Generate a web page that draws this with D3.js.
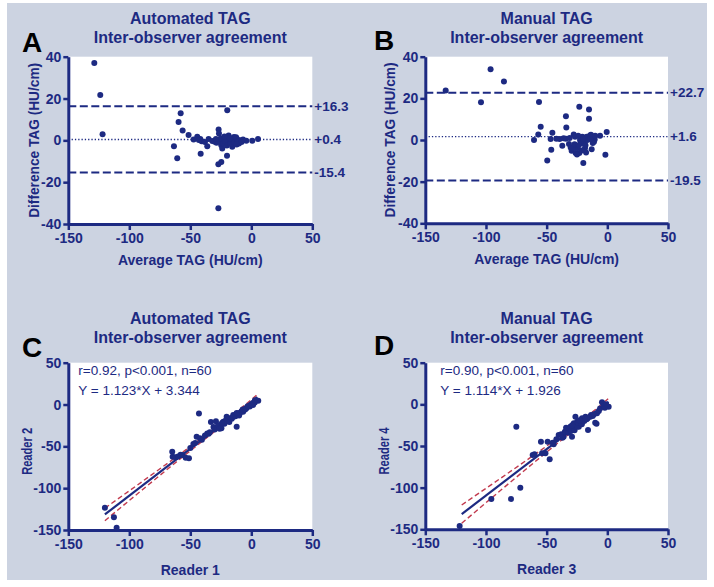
<!DOCTYPE html>
<html><head><meta charset="utf-8">
<script src="https://cdn.jsdelivr.net/npm/d3@7"></script>
<style>body{margin:0;background:#fff}svg{display:block}text{font-family:"Liberation Sans",Arial,sans-serif}</style>
</head><body><svg id="c" width="714" height="587"></svg>
<script>
// ---------- data ----------
const blandTicksY = [-40, -20, 0, 20, 40];
const regTicksY = [-150, -100, -50, 0, 50];
const ticksX = [-150, -100, -50, 0, 50];

const pointsA = [[-128.7,37.0],[-123.8,21.7],[-121.9,2.9],[-57.9,13.0],[-59.6,8.8],[-56.3,4.7],[-51.4,2.6],[-63.4,-2.8],[-60.7,-8.5],[-19.7,14.4],[-47.3,0.4],[-44.3,1.7],[-41.8,0.7],[-40.7,-0.4],[-41.5,-6.4],[-36.1,-2.8],[-35.0,0.7],[-30.0,-0.7],[-26.8,5.2],[-26.5,3.3],[-26.0,0.1],[-24.6,-2.3],[-23.8,-3.9],[-27.0,-11.4],[-24.6,-10.4],[-19.9,-7.4],[-27.0,-32.5],[-22.7,0.7],[-20.5,0.1],[-18.6,2.3],[-18.3,-0.7],[-16.5,0.8],[-15.6,-3.1],[-14.2,1.6],[-13.1,-0.3],[-11.7,0.7],[-10.1,-1.5],[-9.0,0.1],[-6.8,0.4],[-4.1,-0.2],[0.8,-0.2],[5.5,0.7],[-43.0,0.2],[-38.0,-0.8],[-28.5,-1.2],[-25.0,1.0],[-23.0,-1.5],[-21.5,-0.2],[-20.0,-2.5],[-17.0,-1.5],[-15.0,0.3],[-14.0,-0.9],[-12.5,1.5],[-11.0,-0.6],[-8.0,-0.8],[-22.0,1.8],[-17.5,1.0],[-12.0,-2.0],[-32.0,-0.3],[-29.0,0.6]];
const limitsA = [16.3, 0.4, -15.4];
const limitLabelsA = ["+16.3", "+0.4", "-15.4"];

const pointsB = [[-133.2,23.8],[-96.2,34.0],[-85.2,28.1],[-104.1,18.1],[-56.3,18.3],[-54.9,6.4],[-56.9,2.7],[-60.4,0.0],[-49.5,-9.8],[-46.7,0.5],[-45.3,3.5],[-46.2,-4.7],[-39.3,0.5],[-37.1,-2.8],[-34.1,11.4],[-33.8,6.0],[-34.1,0.6],[-31.6,-1.9],[-30.2,-3.6],[-29.4,-5.2],[-27.7,2.7],[-26.6,1.6],[-26.1,-6.3],[-24.7,-3.9],[-23.1,16.0],[-23.1,-6.3],[-22.5,0.0],[-22.0,-1.6],[-20.6,1.6],[-19.8,-11.1],[-19.2,-1.6],[-18.4,-3.9],[-17.0,1.6],[-16.5,0.0],[-15.1,14.6],[-15.1,10.2],[-14.3,2.2],[-12.9,-4.4],[-11.5,1.6],[-11.0,-0.8],[-10.4,0.3],[-6.0,2.1],[-0.5,3.8],[-1.6,-7.1],[-28.5,-4.0],[-25.0,-7.0],[-21.0,-5.0],[-18.0,-2.5],[-13.5,2.5],[-12.0,-1.5],[-24.0,2.0],[-31.0,1.0],[-36.0,0.8],[-42.0,0.6],[-20.0,0.5],[-17.5,-6.0],[-27.0,-2.0],[-14.0,0.5],[-10.0,2.0],[-23.5,-2.5]];
const limitsB = [22.7, 1.6, -19.5];
const limitLabelsB = ["+22.7", "+1.6", "-19.5"];

const pointsC = [[-120,-123.3],[-112.6,-134.9],[-110.4,-147.2],[-64.8,-56.4],[-64.5,-62.4],[-62,-63],[-56.3,-60.4],[-53.8,-63.5],[-51.1,-64.3],[-42.9,-10.6],[-44.8,-38.4],[-42.1,-40.4],[-40.5,-42],[-47.5,-47.2],[-36.1,-34.5],[-33.1,-20.9],[-29,-20.1],[-31,-27],[-25.7,-24.5],[-24.5,-28.5],[-23,-20.5],[-20.2,-14.5],[-17.5,-16.5],[-14.8,-12.5],[-12,-26.5],[-9.4,-10.5],[-6.7,-8.5],[-4,-4.5],[-1.2,-2.5],[1.5,-0.5],[2.9,2.5],[5.7,4.6],[-58,-60],[-50,-52],[-46,-46],[-38,-37],[-35,-35],[-30,-30],[-28,-27],[-27,-25],[-26,-29],[-22,-23],[-21,-19],[-19,-18],[-18,-21],[-16,-17],[-15,-15],[-13,-14],[-11,-11],[-10,-13],[-8,-8],[-7,-6],[-5,-6],[-3,-2],[0,0],[3,5],[-60,-62],[-34,-33],[-24,-22],[-12,-10]];
const fitC = {x: [-120, 5], slope: 1.123, intercept: 3.344};
const ciCx = [-120, -90, -60, -30, 0, 5];
const ciCupper = [-123.9, -92.7, -61.0, -28.3, 5.8, 12.0];
const ciClower = [-138.9, -102.7, -67.0, -32.3, 0.8, 6.0];

const pointsD = [[-121.7,-146],[-95.6,-113.6],[-79.4,-113.6],[-75,-26.8],[-71.7,-100],[-61.5,-60.8],[-54.7,-44.8],[-53.8,-58.8],[-51,-58.8],[-49.2,-44.8],[-47.5,-66],[-44.2,-48],[-40.1,-36.8],[-36,-38.8],[-33,-30.8],[-30.5,-26.8],[-29.1,-38.8],[-27.6,-22.8],[-26.3,-14.8],[-24.9,-20.8],[-23.5,-26.8],[-20.8,-16.8],[-18,-14.8],[-15.9,-30.8],[-16.2,-16.8],[-13.4,-12.8],[-8.9,-23.2],[-8.5,-10.8],[-4.4,2.4],[1.1,-2.8],[-45,-46],[-42,-42],[-38,-36],[-35,-33],[-34,-28],[-32,-34],[-31,-30],[-30,-32],[-28,-28],[-27,-31],[-26,-24],[-25,-27],[-24,-22],[-22,-20],[-21,-24],[-19,-20],[-17,-18],[-14,-15],[-12,-14],[-11,-12],[-10,-22],[-7,-8],[-6,-5],[-3,-2],[-2,-4],[-1,0],[-60,-60],[-37,-40],[-29,-25],[-23,-19]];
const fitD = {x: [-120, 1], slope: 1.114, intercept: 1.926};
const ciDx = [-120, -90, -60, -30, 0, 1];
const ciDupper = [-120.8, -90.8, -60.4, -29.0, 5.9, 7.2];
const ciDlower = [-142.8, -105.8, -69.4, -34.0, -2.1, -1.2];

const titles1 = ["Automated TAG", "Manual TAG", "Automated TAG", "Manual TAG"];
const title2 = "Inter-observer agreement";
const letters = ["A", "B", "C", "D"];
const xTitles = ["Average TAG (HU/cm)", "Average TAG (HU/cm)", "Reader 1", "Reader 3"];
const yTitles = ["Difference TAG (HU/cm)", "Difference TAG (HU/cm)", "Reader 2", "Reader 4"];
const statsText = [null, null, ["r=0.92, p<0.001, n=60", "Y = 1.123*X + 3.344"], ["r=0.90, p<0.001, n=60", "Y = 1.114*X + 1.926"]];

// ---------- style ----------
const NAVY = "#1d2a82";
const RED = "#c23a4e";
const svg = d3.select("#c");
svg.append("rect").attr("x", 7).attr("y", 3).attr("width", 700).attr("height", 577).attr("fill", "#ccd3e1");

const panels = [
  {x0: 68.3, x1: 312.3, y0: 56.7, y1: 224, yDom: [-40, 40], yTicks: blandTicksY, pts: pointsA, limits: limitsA, limLab: limitLabelsA, letter: [22, 52], t1: 24, yTitleX: 34, yLen: 155},
  {x0: 425.3, x1: 668, y0: 56.7, y1: 223.3, yDom: [-40, 40], yTicks: blandTicksY, pts: pointsB, limits: limitsB, limLab: limitLabelsB, letter: [374, 50], t1: 24, yTitleX: 390, yLen: 155},
  {x0: 68.3, x1: 312.3, y0: 362.7, y1: 530, yDom: [-150, 50], yTicks: regTicksY, pts: pointsC, fit: fitC, ci: [ciCx, ciCupper, ciClower], letter: [22, 357], t1: 324, yTitleX: 27, yLen: 47},
  {x0: 425.3, x1: 668, y0: 362.7, y1: 529.3, yDom: [-150, 50], yTicks: regTicksY, pts: pointsD, fit: fitD, ci: [ciDx, ciDupper, ciDlower], letter: [374, 355], t1: 324, yTitleX: 384, yLen: 47}
];

const fmt = d => String(d);

panels.forEach((p, i) => {
  const g = svg.append("g");
  const x = d3.scaleLinear().domain([-150, 50]).range([p.x0, p.x1]);
  const y = d3.scaleLinear().domain(p.yDom).range([p.y1, p.y0]);
  g.append("rect").attr("x", p.x0).attr("y", p.y0).attr("width", p.x1 - p.x0).attr("height", p.y1 - p.y0).attr("fill", "#fff");

  const cx = (p.x0 + p.x1) / 2;
  g.append("text").attr("x", cx).attr("y", p.t1).attr("text-anchor", "middle").attr("font-size", 16).attr("font-weight", "bold").attr("fill", NAVY).text(titles1[i]);
  g.append("text").attr("x", cx).attr("y", p.t1 + 19).attr("text-anchor", "middle").attr("font-size", 16).attr("font-weight", "bold").attr("fill", NAVY).text(title2);
  g.append("text").attr("x", p.letter[0]).attr("y", p.letter[1]).attr("font-size", 28).attr("font-weight", "bold").attr("fill", "#000").text(letters[i]);

  if (p.limits) {
    p.limits.forEach((v, k) => {
      g.append("line").attr("x1", p.x0).attr("x2", p.x1).attr("y1", y(v)).attr("y2", y(v))
        .attr("stroke", NAVY).attr("stroke-width", k === 1 ? 1.3 : 2)
        .attr("stroke-dasharray", k === 1 ? "1.3,2" : "8,3.5");
      g.append("text").attr("x", p.x1 + 2).attr("y", y(v)).attr("dy", "0.35em").attr("font-size", 13.5).attr("font-weight", "bold").attr("fill", NAVY).text(p.limLab[k]);
    });
  }
  if (p.fit) {
    const line = d3.line().x(d => x(d[0])).y(d => y(d[1])).curve(d3.curveMonotoneX);
    const cxs = p.ci[0];
    g.append("path").attr("d", line(cxs.map((v, k) => [v, p.ci[1][k]]))).attr("fill", "none").attr("stroke", RED).attr("stroke-width", 1.4).attr("stroke-dasharray", "5,3");
    g.append("path").attr("d", line(cxs.map((v, k) => [v, p.ci[2][k]]))).attr("fill", "none").attr("stroke", RED).attr("stroke-width", 1.4).attr("stroke-dasharray", "5,3");
    g.append("path").attr("d", d3.line().x(d => x(d[0])).y(d => y(d[1]))(p.fit.x.map(v => [v, p.fit.slope * v + p.fit.intercept])))
      .attr("fill", "none").attr("stroke", NAVY).attr("stroke-width", 2.2);
  }
  g.selectAll("circle.pt").data(p.pts).join("circle").attr("class", "pt")
    .attr("cx", d => x(d[0])).attr("cy", d => y(d[1])).attr("r", 3).attr("fill", NAVY);

  if (statsText[i]) {
    g.append("text").attr("x", p.x0 + 10 + (i === 3 ? 5 : 0)).attr("y", 375).attr("font-size", 13.5).attr("fill", NAVY).text(statsText[i][0]);
    g.append("text").attr("x", p.x0 + 10 + (i === 3 ? 5 : 0)).attr("y", 395).attr("font-size", 13.5).attr("fill", NAVY).text(statsText[i][1]);
  }

  const ax = g.append("g").attr("transform", `translate(0,${p.y1})`)
    .call(d3.axisBottom(x).tickValues(ticksX).tickFormat(fmt).tickSize(6).tickSizeOuter(0).tickPadding(3));
  const ay = g.append("g").attr("transform", `translate(${p.x0},0)`)
    .call(d3.axisLeft(y).tickValues(p.yTicks).tickFormat(fmt).tickSize(5).tickSizeOuter(0).tickPadding(2));
  [ax, ay].forEach(a => {
    a.select(".domain").attr("stroke", NAVY).attr("stroke-width", 3);
    a.selectAll(".tick line").attr("stroke", NAVY).attr("stroke-width", 2.5);
    a.selectAll(".tick text").attr("fill", NAVY).attr("font-size", 14).attr("font-weight", "bold").attr("font-family", '"Liberation Sans",Arial,sans-serif');
  });

  g.append("text").attr("x", cx).attr("y", p.y1 + 41 + (p.fit ? 4 : 0)).attr("text-anchor", "middle").attr("font-size", 14).attr("font-weight", "bold").attr("fill", NAVY).text(xTitles[i]);
  const ym = (p.y0 + p.y1) / 2 + (p.fit ? 5 : 0);
  g.append("text").attr("transform", `translate(${p.yTitleX},${ym}) rotate(-90)`).attr("text-anchor", "middle").attr("dy", "0.35em")
    .attr("font-size", 14).attr("font-weight", "bold").attr("fill", NAVY)
    .attr("textLength", p.yLen).attr("lengthAdjust", "spacingAndGlyphs").text(yTitles[i]);
});
</script></body></html>
